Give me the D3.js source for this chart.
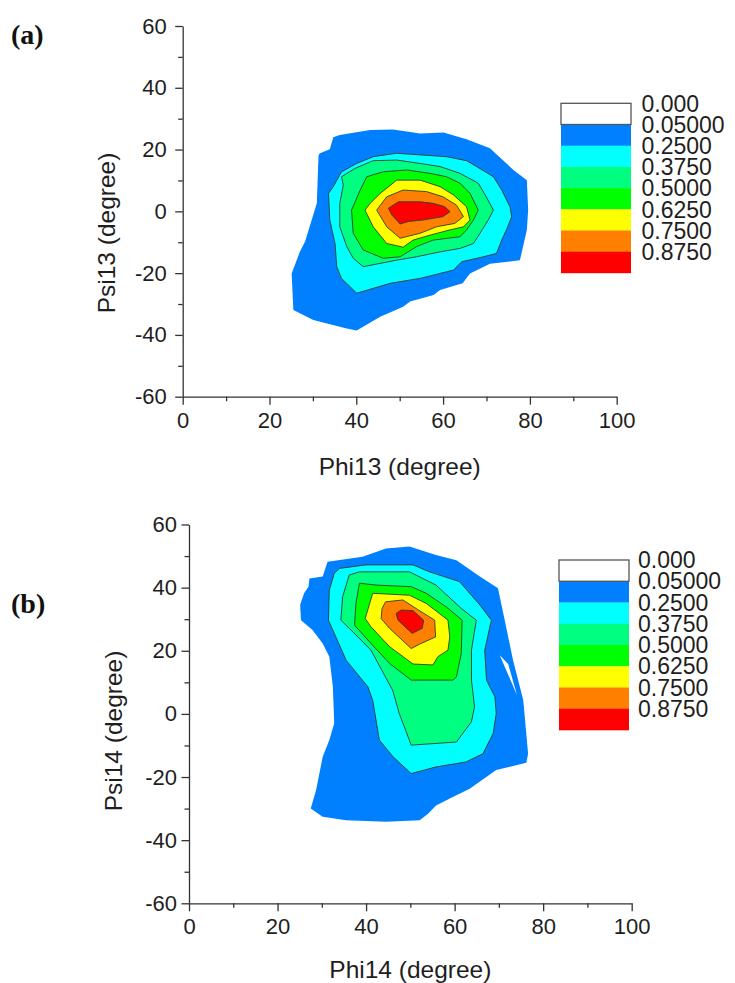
<!DOCTYPE html>
<html>
<head>
<meta charset="utf-8">
<script src="https://cdn.jsdelivr.net/npm/d3@7"></script>
<style>
  body { margin: 0; background: #fff; }
  svg { display: block; }
</style>
</head>
<body>
<svg id="chart" width="735" height="983"></svg>
<script>
// Contour levels of the normalised population and their legend labels
const levels = [0, 0.05, 0.25, 0.375, 0.5, 0.625, 0.75, 0.875];
const levelLabels = ["0.000", "0.05000", "0.2500", "0.3750", "0.5000", "0.6250", "0.7500", "0.8750"];

// Axis ticks (degrees)
const xMajorTicks = [0, 20, 40, 60, 80, 100];
const xMinorTicks = [10, 30, 50, 70, 90];
const yMajorTicks = [-60, -40, -20, 0, 20, 40, 60];
const yMinorTicks = [-50, -30, -10, 10, 30, 50];

// Panel (a): Phi13 / Psi13 contour outlines, [phi, psi] in degrees
const a_level005 = [[31.6,18.8],[33.9,20.1],[34.7,24.0],[36.2,24.7],[43.2,26.3],[48.5,26.5],[54.7,25.2],[60.1,25.5],[65.4,23.3],[70.8,20.4],[76.2,13.4],[79.3,10.1],[79.6,0.4],[79.3,-6.0],[77.7,-15.8],[70.8,-17.0],[66.2,-20.1],[64.5,-23.3],[59.3,-25.5],[57.8,-27.1],[52.4,-29.2],[50.8,-30.9],[45.5,-34.1],[40.1,-38.6],[37.8,-37.9],[30.1,-35.2],[25.5,-31.9],[25.1,-20.1],[27.0,-13.1],[28.2,-9.8],[30.9,2.6],[31.3,18.2]];
const a_level025 = [[33.6,5.8],[34.7,8.0],[36.6,12.8],[40.1,15.5],[43.9,17.7],[49.3,18.8],[55.5,18.2],[60.8,17.7],[65.4,16.4],[67.7,14.5],[71.6,11.2],[73.5,6.9],[75.4,1.5],[75.8,-1.7],[74.6,-6.0],[73.5,-9.3],[72.3,-13.6],[69.3,-14.7],[64.3,-16.3],[62.4,-19.0],[54.7,-21.7],[47.8,-23.3],[40.1,-26.5],[36.6,-21.7],[35.5,-17.9],[35.1,-10.4],[33.9,-2.8]];
const a_level0375 = [[36.6,11.2],[39.7,13.9],[43.9,16.4],[49.3,16.6],[54.7,15.5],[59.3,14.5],[63.9,12.3],[68.1,9.1],[69.7,5.3],[71.6,0.4],[70.4,-2.8],[68.5,-7.1],[67.0,-10.4],[63.9,-12.0],[59.3,-13.1],[53.9,-14.7],[49.3,-15.8],[41.6,-17.9],[39.3,-15.2],[37.8,-11.4],[36.2,-5.0],[36.2,2.6],[37.0,8.5]];
const a_level050 = [[42.4,11.2],[46.2,12.8],[51.6,13.4],[57.0,12.3],[60.8,11.2],[63.9,9.1],[66.2,5.8],[68.1,0.4],[67.0,-2.8],[65.4,-6.0],[63.9,-8.2],[57.7,-9.3],[53.9,-11.4],[50.1,-14.7],[46.2,-15.2],[41.6,-12.5],[39.3,-7.1],[38.9,0.4],[40.9,6.9]];
const a_level0625 = [[42.0,0.4],[43.2,2.6],[45.5,5.8],[49.3,10.1],[54.7,10.1],[59.3,8.0],[62.4,5.3],[65.4,1.5],[66.2,-2.8],[64.7,-5.0],[61.6,-6.0],[57.0,-7.7],[53.1,-9.3],[50.8,-11.6],[47.0,-10.4],[43.9,-5.0]];
const a_level075 = [[44.7,0.4],[47.0,4.7],[50.8,6.9],[56.2,6.4],[60.0,4.7],[63.1,2.0],[64.7,-1.7],[62.7,-3.9],[58.5,-5.0],[54.7,-7.1],[50.1,-8.7],[47.0,-5.0]];
const a_level0875 = [[47.4,1.0],[49.7,3.1],[54.7,3.1],[57.7,2.6],[60.4,1.5],[61.6,-0.1],[60.0,-1.7],[55.4,-2.8],[52.0,-3.3],[50.1,-4.1],[48.2,-1.2]];

// Panel (b): Phi14 / Psi14 contour outlines, [phi, psi] in degrees
const b_level005 = [[27.2,42.9],[30.2,43.5],[31.3,48.2],[39.2,49.8],[44.5,52.4],[49.8,53.0],[55.8,50.3],[60.4,48.7],[65.7,43.5],[69.8,39.8],[73.2,17.0],[75.5,4.4],[76.6,-12.6],[76.2,-15.5],[69.4,-17.8],[63.4,-23.7],[59.6,-26.3],[55.8,-29.0],[54.0,-31.6],[52.1,-33.7],[44.5,-34.2],[35.5,-33.7],[30.2,-32.6],[27.5,-30.0],[28.7,-24.2],[30.2,-13.6],[31.7,-8.3],[32.8,-3.0],[32.5,8.6],[31.7,18.1],[30.2,22.3],[27.9,26.6],[25.3,29.7],[25.1,34.5],[26.0,38.2],[27.0,40.3]];
const b_level005Gap = [[70.2,18.6],[72.1,15.8],[74.1,5.9]];
const b_level025 = [[34.0,46.1],[40.0,47.2],[50.6,47.2],[54.3,45.0],[61.1,41.9],[65.7,34.5],[68.3,29.7],[66.8,20.2],[67.2,10.7],[69.1,5.4],[69.4,0.1],[68.7,-6.2],[66.4,-12.6],[62.6,-15.2],[55.8,-16.8],[50.2,-18.9],[46.1,-13.6],[43.0,-8.3],[41.5,4.3],[40.4,8.6],[35.5,17.0],[31.5,29.7],[31.7,39.2],[32.8,44.5]];
const b_level0375 = [[36.2,44.0],[38.5,45.0],[49.8,45.0],[55.8,40.8],[61.5,33.4],[64.9,29.7],[63.8,20.2],[63.8,10.7],[64.5,2.3],[63.8,-2.5],[60.4,-8.9],[50.2,-9.9],[47.5,0.1],[46.0,7.5],[41.1,20.2],[37.0,26.0],[34.3,29.7],[34.7,37.1]];
const b_level050 = [[38.5,41.4],[42.3,40.8],[50.2,40.3],[53.6,38.2],[58.1,33.9],[61.7,29.7],[61.5,19.1],[60.4,11.7],[59.6,10.7],[50.2,10.7],[45.3,16.0],[40.8,22.8],[37.4,28.1],[37.7,35.0]];
const b_level0625 = [[41.5,38.2],[49.8,37.6],[53.6,35.0],[58.5,29.7],[58.9,24.4],[58.5,20.2],[56.2,18.1],[55.1,15.5],[50.6,15.8],[45.3,21.3],[41.1,27.6],[39.8,30.2]];
const b_level075 = [[44.4,35.5],[48.3,36.1],[51.3,33.4],[55.5,29.7],[55.7,24.4],[52.1,22.1],[50.2,20.7],[45.3,27.1],[43.4,30.2],[43.6,33.4]];
const b_level0875 = [[46.8,31.8],[47.9,32.9],[50.6,32.7],[53.0,29.7],[52.7,27.1],[50.4,25.5],[47.2,29.7]];

// Fill colour for each band (band i spans levels[i]..levels[i+1])
const bandColor = d3.scaleOrdinal()
  .domain(levels)
  .range(["#ffffff", "#0080ff", "#00ffff", "#00ff80", "#00ff00", "#ffff00", "#ff8000", "#ff0000"]);

const panels = [
  {
    tag: "(a)", tagX: 11, tagY: 44,
    xTitle: "Phi13 (degree)", yTitle: "Psi13 (degree)",
    left: 182.7, right: 616.7, top: 26, bottom: 396.7,
    yTickPad: 8.5, xTitleY: 475, yTitleX: 115, yTitleY: 233,
    legendX: 561, legendW: 70, legendTop: 103.3, legendBand: 21.2, legendTextX: 641.5,
    contours: [
      { level: 0.05, rings: [a_level005] },
      { level: 0.25, rings: [a_level025] },
      { level: 0.375, rings: [a_level0375] },
      { level: 0.5, rings: [a_level050] },
      { level: 0.625, rings: [a_level0625] },
      { level: 0.75, rings: [a_level075] },
      { level: 0.875, rings: [a_level0875] }
    ]
  },
  {
    tag: "(b)", tagX: 11, tagY: 613,
    xTitle: "Phi14 (degree)", yTitle: "Psi14 (degree)",
    left: 189, right: 631.7, top: 524.5, bottom: 903.3,
    yTickPad: 4.5, xTitleY: 978, yTitleX: 122, yTitleY: 731,
    legendX: 559, legendW: 70, legendTop: 560, legendBand: 21.25, legendTextX: 638,
    contours: [
      { level: 0.05, rings: [b_level005, b_level005Gap] },
      { level: 0.25, rings: [b_level025] },
      { level: 0.375, rings: [b_level0375] },
      { level: 0.5, rings: [b_level050] },
      { level: 0.625, rings: [b_level0625] },
      { level: 0.75, rings: [b_level075] },
      { level: 0.875, rings: [b_level0875] }
    ]
  }
];

const svg = d3.select("#chart");
const FONT = "'Liberation Sans', Arial, Helvetica, sans-serif";
const INK = "#1e1e1e";
const AXIS = "#333333";
// Plain hyphen-minus for negative tick labels
const tickText = d => String(d);

panels.forEach(p => {
  const x = d3.scaleLinear().domain([0, 100]).range([p.left, p.right]);
  const y = d3.scaleLinear().domain([-60, 60]).range([p.bottom, p.top]);
  const g = svg.append("g");

  // Filled contour bands, outermost first; inner bands paint over outer ones
  const line = d3.line().x(d => x(d[0])).y(d => y(d[1]));
  p.contours.forEach(c => {
    g.append("path")
      .attr("d", c.rings.map(r => line(r) + "Z").join(""))
      .attr("fill", bandColor(c.level))
      .attr("fill-rule", "evenodd")
      .attr("stroke", c.level > 0.05 ? "#2c3e36" : "none")
      .attr("stroke-width", 0.9)
      .attr("stroke-linejoin", "round");
  });

  const styleAxis = sel => {
    sel.selectAll("path.domain").attr("stroke", AXIS).attr("stroke-width", 1.3);
    sel.selectAll(".tick line").attr("stroke", AXIS).attr("stroke-width", 1.3);
    sel.selectAll(".tick text")
      .attr("font-family", FONT).attr("font-size", 22).attr("fill", INK);
  };

  // Minor ticks
  g.append("g").attr("transform", `translate(0,${p.bottom})`)
    .call(d3.axisBottom(x).tickValues(xMinorTicks).tickSize(4.5).tickFormat(""))
    .call(s => s.select("path.domain").remove())
    .call(styleAxis);
  g.append("g").attr("transform", `translate(${p.left},0)`)
    .call(d3.axisLeft(y).tickValues(yMinorTicks).tickSize(4.5).tickFormat(""))
    .call(s => s.select("path.domain").remove())
    .call(styleAxis);

  // Major ticks with labels
  g.append("g").attr("transform", `translate(0,${p.bottom})`)
    .call(d3.axisBottom(x).tickValues(xMajorTicks).tickSize(8).tickPadding(7.5).tickSizeOuter(0).tickFormat(tickText))
    .call(styleAxis);
  g.append("g").attr("transform", `translate(${p.left},0)`)
    .call(d3.axisLeft(y).tickValues(yMajorTicks).tickSize(7.5).tickPadding(p.yTickPad).tickSizeOuter(0).tickFormat(tickText))
    .call(styleAxis);

  // Axis titles
  g.append("text")
    .attr("x", (p.left + p.right) / 2).attr("y", p.xTitleY)
    .attr("text-anchor", "middle")
    .attr("font-family", FONT).attr("font-size", 24.5).attr("fill", INK)
    .text(p.xTitle);
  g.append("text")
    .attr("transform", `translate(${p.yTitleX},${p.yTitleY}) rotate(-90)`)
    .attr("text-anchor", "middle")
    .attr("font-family", FONT).attr("font-size", 24.5).attr("fill", INK)
    .text(p.yTitle);

  // Panel tag
  g.append("text")
    .attr("x", p.tagX).attr("y", p.tagY)
    .attr("font-family", "'Liberation Serif', 'Times New Roman', serif")
    .attr("font-weight", "bold").attr("font-size", 28).attr("fill", "#111")
    .text(p.tag);

  // Legend: one colour band per level, label at the band's lower bound
  const lg = g.append("g");
  lg.selectAll("rect.band").data(levels).join("rect")
    .attr("class", "band")
    .attr("x", p.legendX)
    .attr("y", (d, i) => p.legendTop + i * p.legendBand)
    .attr("width", p.legendW)
    .attr("height", p.legendBand + 0.3)
    .attr("fill", d => bandColor(d));
  lg.append("rect")
    .attr("x", p.legendX).attr("y", p.legendTop)
    .attr("width", p.legendW).attr("height", p.legendBand)
    .attr("fill", "none").attr("stroke", "#555").attr("stroke-width", 1.3);
  lg.selectAll("text").data(levelLabels).join("text")
    .attr("x", p.legendTextX)
    .attr("y", (d, i) => p.legendTop + i * p.legendBand + 8.2)
    .attr("font-family", FONT).attr("font-size", 23).attr("fill", INK)
    .text(d => d);
});
</script>
</body>
</html>
